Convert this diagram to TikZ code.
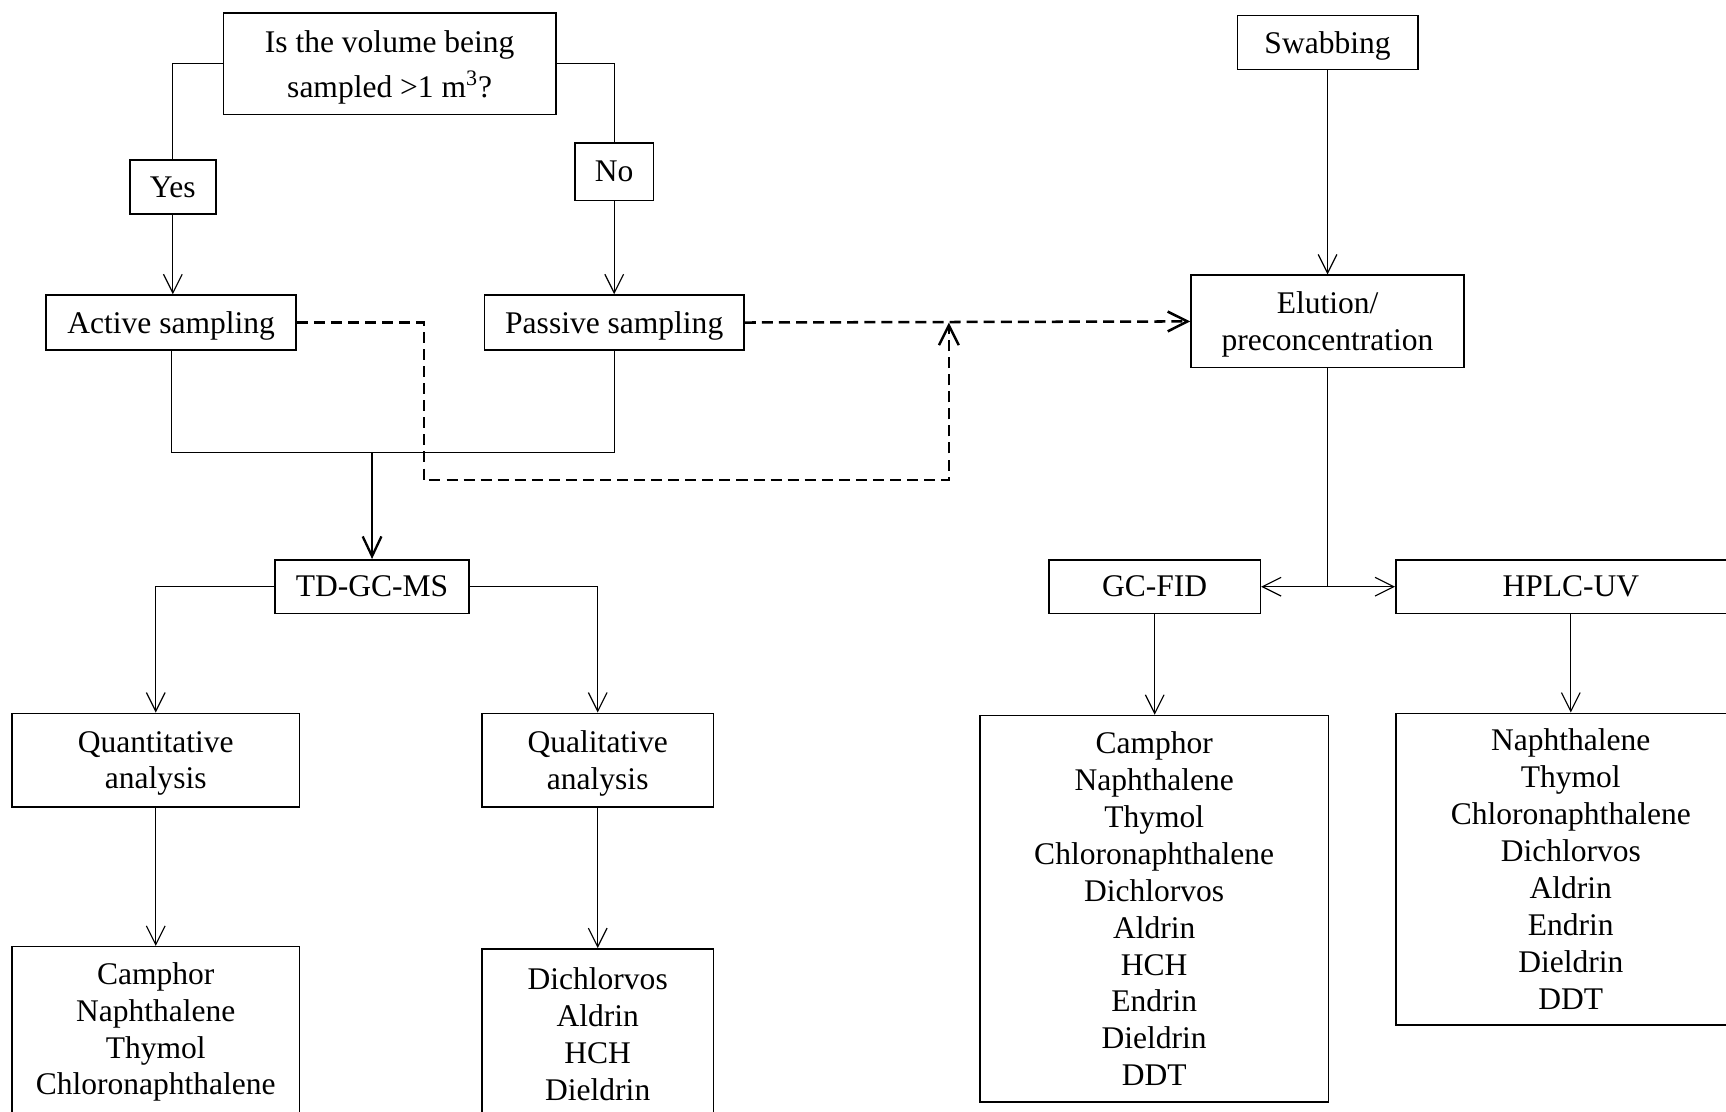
\documentclass[tikz,border=0pt]{standalone}
\usepackage{fontspec}
\setmainfont{Liberation Serif}
\usepackage{tikz}
\usetikzlibrary{arrows.meta,positioning}

\begin{document}
\begin{tikzpicture}[
  x=0.02cm,
  y=-0.02cm,
  font=\fontsize{16.3}{19.1}\selectfont,
  box/.style={draw, line width=0.8pt, align=center, inner sep=0pt},
  lowbox/.style={box, text depth=0pt},
  connector/.style={draw, line width=0.6pt},
  arrowline/.style={connector, -{Straight Barb[length=3.4mm,width=3.4mm]}},
  mainarrow/.style={draw, line width=1.2pt, -{Straight Barb[length=3.6mm,width=3.4mm]}},
  dashline/.style={draw, line width=1.3pt, dash pattern=on 0.2cm off 0.11cm},
  dasharrow/.style={dashline, -{Straight Barb[length=3.6mm,width=3.6mm]}}
]
\useasboundingbox (0,0) rectangle (1568,1010);
\clip (0,0) rectangle (1568,1010);
\node[lowbox, minimum width=6.04cm, minimum height=1.84cm] (q) at (354,58) {Is the volume being\\[0.15cm]sampled >1 m\textsuperscript{3}?};
\node[box, minimum width=1.56cm, minimum height=0.98cm] (yes) at (157,170) {Yes};
\node[box, minimum width=1.42cm, minimum height=1.04cm] (no) at (558,156) {No};
\node[lowbox, minimum width=4.54cm, minimum height=1cm] (active) at (155.5,293) {Active sampling};
\node[lowbox, minimum width=4.72cm, minimum height=1cm] (passive) at (558,293) {Passive sampling};
\node[box, minimum width=3.52cm, minimum height=0.98cm] (tdgc) at (338,533) {TD-GC-MS};
\node[lowbox, minimum width=5.22cm, minimum height=1.7cm] (quant) at (141.5,690.5) {Quantitative\\analysis};
\node[lowbox, minimum width=4.2cm, minimum height=1.7cm] (qual) at (543,690.5) {Qualitative\\analysis};
\node[box, minimum width=5.22cm, minimum height=3.1cm] (camlist) at (141.5,937.5) {Camphor\\Naphthalene\\Thymol\\Chloronaphthalene};
\node[box, minimum width=4.2cm, minimum height=3.1cm] (quallist) at (543,939.5) {Dichlorvos\\Aldrin\\HCH\\Dieldrin};
\node[lowbox, minimum width=3.28cm, minimum height=0.98cm] (swab) at (1206,38.5) {Swabbing};
\node[lowbox, minimum width=4.96cm, minimum height=1.68cm] (elution) at (1206,292) {Elution/\\preconcentration};
\node[box, minimum width=3.84cm, minimum height=0.98cm] (gcfid) at (1049,533) {GC-FID};
\node[box, minimum width=6.36cm, minimum height=0.98cm] (hplc) at (1427,533) {HPLC-UV};
\node[box, minimum width=6.34cm, minimum height=7.02cm] (gclist) at (1048.5,825.5) {Camphor\\Naphthalene\\Thymol\\Chloronaphthalene\\Dichlorvos\\Aldrin\\HCH\\Endrin\\Dieldrin\\DDT};
\node[box, minimum width=6.36cm, minimum height=5.66cm] (hplclist) at (1427,789.5) {Naphthalene\\Thymol\\Chloronaphthalene\\Dichlorvos\\Aldrin\\Endrin\\Dieldrin\\DDT};
\draw[connector] (q.west) -| (yes.north);
\draw[connector] (q.east) -| (no.north);
\foreach \a/\b in {yes/active,no/passive,swab/elution,gcfid/gclist,hplc/hplclist,quant/camlist,qual/quallist} {
  \draw[arrowline] (\a.south) -- (\a.south |- \b.north);
}
\coordinate (merge) at (338,411);
\draw[connector] (active.south) |- (merge) -| (passive.south);
\draw[mainarrow] (merge) -- (tdgc.north);
\draw[arrowline] (tdgc.west) -| (quant.north);
\draw[arrowline] (tdgc.east) -| (qual.north);
\coordinate (split) at (elution.south |- gcfid.east);
\draw[connector] (elution.south) -- (split);
\draw[arrowline] (split) -- (gcfid.east);
\draw[arrowline] (split) -- (hplc.west);
\coordinate (dashdrop) at (385,436);
\coordinate (dashrise) at (862,293);
\draw[dasharrow] (active.east) -| (dashdrop) -| (dashrise);
\draw[dasharrow] (passive.east) -- (elution.west);
\end{tikzpicture}
\end{document}
